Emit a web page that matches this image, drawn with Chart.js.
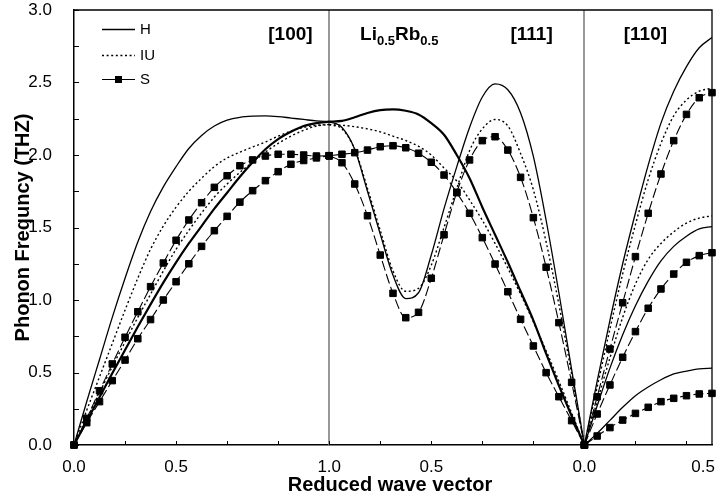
<!DOCTYPE html>
<html><head><meta charset="utf-8">
<script src="https://cdn.jsdelivr.net/npm/chart.js@4.4.1/dist/chart.umd.min.js"></script>
<style>html,body{margin:0;padding:0;background:#fff}canvas{display:block}</style>
</head><body>
<canvas id="c" width="723" height="502"></canvas>
<script>
// ---- x coordinates of the three segments ([100]: 0..1, [111]: 1..2 (shown as 1.0 -> 0.0), [110]: 2..2.5) ----
const xs100 = [0,0.05,0.1,0.15,0.2,0.25,0.3,0.35,0.4,0.45,0.5,0.55,0.6,0.65,0.7,0.75,0.8,0.85,0.9,0.95,1.0];
const xs111 = [1.0,1.05,1.1,1.15,1.2,1.25,1.3,1.35,1.4,1.45,1.5,1.55,1.6,1.65,1.7,1.75,1.8,1.85,1.9,1.95,2.0];
const xs110 = [2.0,2.05,2.1,2.15,2.2,2.25,2.3,2.35,2.4,2.45,2.5];

// ---- H ----
const H100L = [0,0.30,0.59,0.88,1.15,1.40,1.61,1.78,1.92,2.045,2.135,2.20,2.24,2.26,2.268,2.27,2.265,2.255,2.245,2.235,2.23];
const H100T = [0,0.165,0.33,0.495,0.655,0.815,0.97,1.12,1.26,1.39,1.51,1.63,1.74,1.85,1.95,2.04,2.11,2.16,2.2,2.22,2.23];
const H111L = [2.23,2.19,2.04,1.75,1.455,1.17,1.01,1.05,1.31,1.63,1.92,2.19,2.40,2.49,2.45,2.29,1.99,1.55,1.05,0.52,0];
const H111T = [2.23,2.235,2.26,2.29,2.31,2.315,2.305,2.28,2.22,2.14,2.0,1.84,1.64,1.45,1.26,1.06,0.86,0.63,0.41,0.20,0];
const H110U = [0,0.44,0.86,1.25,1.6,1.93,2.22,2.44,2.61,2.74,2.81];
const H110M = [0,0.27,0.53,0.76,0.96,1.13,1.27,1.37,1.44,1.49,1.506];
const H110Lo = [0,0.08,0.17,0.26,0.34,0.40,0.45,0.49,0.51,0.525,0.53];

// ---- IU ----
const IU100L = [0,0.24,0.47,0.70,0.93,1.15,1.35,1.51,1.64,1.75,1.84,1.92,1.98,2.02,2.055,2.09,2.13,2.165,2.19,2.205,2.21];
const IU100T = [0,0.18,0.36,0.54,0.71,0.88,1.04,1.2,1.35,1.48,1.6,1.71,1.8,1.88,1.95,2.02,2.08,2.13,2.17,2.2,2.21];
const IU111L = [2.21,2.18,2.04,1.77,1.48,1.2,1.06,1.08,1.24,1.5,1.77,2.03,2.18,2.245,2.2,2.01,1.76,1.40,0.97,0.49,0];
const IU111T = [2.21,2.205,2.195,2.18,2.16,2.13,2.10,2.06,2.0,1.91,1.82,1.69,1.55,1.39,1.22,1.04,0.85,0.65,0.44,0.22,0];
const IU110U = [0,0.40,0.80,1.18,1.52,1.83,2.08,2.27,2.38,2.44,2.46];
const IU110M = [0,0.30,0.60,0.88,1.11,1.28,1.39,1.47,1.53,1.565,1.58];

// ---- S ----
const S100L = [0,0.184,0.374,0.559,0.743,0.919,1.092,1.255,1.412,1.552,1.671,1.777,1.857,1.926,1.966,1.993,2.005,2.005,2.0,1.993,1.995];
const S100T = [0,0.154,0.299,0.444,0.586,0.733,0.865,1.0,1.126,1.25,1.37,1.478,1.577,1.675,1.754,1.823,1.885,1.936,1.962,1.98,1.995];
const S111L = [1.995,1.947,1.8,1.581,1.31,1.046,0.878,0.915,1.15,1.45,1.743,1.966,2.099,2.126,2.034,1.846,1.568,1.226,0.844,0.432,0];
const S111T = [1.995,2.005,2.016,2.034,2.057,2.064,2.05,2.012,1.95,1.862,1.74,1.598,1.43,1.248,1.057,0.867,0.683,0.499,0.333,0.168,0];
const S110U = [0,0.333,0.662,0.981,1.299,1.598,1.869,2.099,2.28,2.395,2.43];
const S110M = [0,0.214,0.414,0.605,0.782,0.943,1.076,1.179,1.26,1.306,1.326];
const S110Lo = [0,0.062,0.12,0.172,0.218,0.26,0.299,0.322,0.34,0.352,0.356];

// ---- axes ----
const xTickValues = [0,0.4,1.0,1.4,2.0,2.465];
const xTickLabels = ['0.0','0.5','1.0','0.5','0.0','0.5'];
const xMinorTicks = [0,0.2,0.4,0.6,0.8,1.0,1.2,1.4,1.6,1.8,2.0,2.2,2.4];
const yMinorTicks = [0,0.25,0.5,0.75,1.0,1.25,1.5,1.75,2.0,2.25,2.5,2.75,3.0];
const separators = [1.0,2.0];
const seriesNames = ['H','IU','S'];
const annotations = [
  {text:'[100]', x:0.848},
  {text:'[111]', x:1.793},
  {text:'[110]', x:2.239}
];

const FONT = '"Liberation Sans", Arial, Helvetica, sans-serif';
const pts = (xs, ys) => xs.map((v,i)=>({x:v, y:ys[i]}));

const styles = {
  H:  {borderColor:'#000', borderWidth:1.3, pointRadius:0, borderDash:[]},
  HT: {borderColor:'#000', borderWidth:2.2, pointRadius:0, borderDash:[]},
  IU: {borderColor:'#000', borderWidth:1.4, pointRadius:0, borderDash:[2,2.6]},
  S:  {borderColor:'#000', borderWidth:1.1, borderDash:[10,3.5], pointStyle:'rect', pointRadius:4.6,
       pointBackgroundColor:'#000', pointBorderColor:'#000', pointBorderWidth:1}
};
function ds(label, xs, ys, st){
  return Object.assign({label, data:pts(xs,ys), fill:false, cubicInterpolationMode:'monotone', clip:false}, styles[st]);
}

const datasets = [
  ds('IU', xs100, IU100L, 'IU'), ds('IU', xs100, IU100T, 'IU'),
  ds('IU', xs111, IU111L, 'IU'), ds('IU', xs111, IU111T, 'IU'),
  ds('IU', xs110, IU110U, 'IU'), ds('IU', xs110, IU110M, 'IU'),
  ds('H', xs100, H100L, 'H'), ds('H', xs100, H100T, 'HT'),
  ds('H', xs111, H111L, 'H'), ds('H', xs111, H111T, 'HT'),
  ds('H', xs110, H110U, 'H'), ds('H', xs110, H110M, 'H'), ds('H', xs110, H110Lo, 'H'),
  ds('S', xs100, S100L, 'S'), ds('S', xs100, S100T, 'S'),
  ds('S', xs111, S111L, 'S'), ds('S', xs111, S111T, 'S'),
  ds('S', xs110, S110U, 'S'), ds('S', xs110, S110M, 'S'), ds('S', xs110, S110Lo, 'S')
];

const decor = {
  id:'decor',
  beforeDatasetsDraw(chart){
    const {ctx, chartArea:a, scales:{x,y}} = chart;
    ctx.save();
    ctx.strokeStyle = '#7f7f7f'; ctx.lineWidth = 1.6;
    for (const v of separators){
      const px = Math.round(x.getPixelForValue(v));
      ctx.beginPath(); ctx.moveTo(px, a.top); ctx.lineTo(px, a.bottom); ctx.stroke();
    }
    ctx.strokeStyle = '#000'; ctx.lineWidth = 1.3;
    ctx.beginPath(); ctx.moveTo(a.left, a.top); ctx.lineTo(a.right, a.top); ctx.lineTo(a.right, a.bottom); ctx.stroke();
    ctx.lineWidth = 1;
    for (const v of yMinorTicks){
      const py = Math.round(y.getPixelForValue(v)) + 0.5;
      ctx.beginPath(); ctx.moveTo(a.left, py); ctx.lineTo(a.left + 5, py); ctx.stroke();
    }
    for (const v of xMinorTicks){
      const px = Math.round(x.getPixelForValue(v)) + 0.5;
      ctx.beginPath(); ctx.moveTo(px, a.bottom); ctx.lineTo(px, a.bottom - 4); ctx.stroke();
    }
    ctx.restore();
  },
  afterDraw(chart){
    const {ctx, chartArea:a, scales:{x,y}} = chart;
    ctx.save();
    ctx.fillStyle = '#000';
    ctx.font = 'bold 20px ' + FONT;
    ctx.textAlign = 'center'; ctx.textBaseline = 'middle';
    ctx.fillText('Reduced wave vector', (a.left + a.right)/2 - 3, 485);
    ctx.save();
    ctx.translate(23, (a.top + a.bottom)/2);
    ctx.rotate(-Math.PI/2);
    ctx.fillText('Phonon Frequncy (THZ)', 0, 0);
    ctx.restore();
    const baseY = y.getPixelForValue(2.79);
    ctx.font = 'bold 19px ' + FONT; ctx.textBaseline = 'alphabetic'; ctx.textAlign = 'center';
    for (const an of annotations) ctx.fillText(an.text, x.getPixelForValue(an.x), baseY);
    ctx.textAlign = 'left';
    let px = x.getPixelForValue(1.121);
    const parts = [['Li',false],['0.5',true],['Rb',false],['0.5',true]];
    for (const [t, sub] of parts){
      ctx.font = (sub ? 'bold 13px ' : 'bold 19px ') + FONT;
      ctx.fillText(t, px, baseY + (sub ? 5 : 0));
      px += ctx.measureText(t).width;
    }
    const ly = [29, 55, 79];
    const lx0 = 102, lx1 = 135;
    ctx.font = '15px ' + FONT; ctx.textBaseline = 'middle';
    seriesNames.forEach((name, i) => {
      const st = styles[name];
      ctx.strokeStyle = '#000'; ctx.lineWidth = st.borderWidth;
      ctx.setLineDash(name === 'IU' ? [2,2.6] : []);
      ctx.beginPath(); ctx.moveTo(lx0, ly[i]+0.5); ctx.lineTo(lx1, ly[i]+0.5); ctx.stroke();
      ctx.setLineDash([]);
      if (name === 'S'){ ctx.fillRect(lx0 + 13, ly[i] - 3, 7, 7); }
      ctx.fillText(name, 140, ly[i] + 1);
    });
    ctx.restore();
  }
};

new Chart(document.getElementById('c'), {
  type:'line',
  data:{datasets},
  options:{
    responsive:false, animation:false, events:[],
    layout:{padding:{left:0, top:10, right:11, bottom:0}},
    plugins:{legend:{display:false}, tooltip:{enabled:false}},
    scales:{
      x:{type:'linear', min:0, max:2.5,
         grid:{display:false}, border:{display:true, color:'#000', width:1.5},
         afterBuildTicks(s){ s.ticks = xTickValues.map(v=>({value:v})); },
         afterFit(s){ s.height = 57; s.paddingLeft = 0; s.paddingRight = 0; },
         ticks:{autoSkip:false, maxRotation:0, padding:4, color:'#000', font:{family:FONT, size:17},
                callback:(v, i) => xTickLabels[i]}},
      y:{type:'linear', min:0, max:3,
         grid:{display:false}, border:{display:true, color:'#000', width:1.5},
         afterFit(s){ s.width = 74; s.paddingTop = 0; s.paddingBottom = 0; },
         ticks:{stepSize:0.5, padding:14, color:'#000', font:{family:FONT, size:17},
                callback:v => Number(v).toFixed(1)}}
    }
  },
  plugins:[decor]
});
</script>
</body></html>
